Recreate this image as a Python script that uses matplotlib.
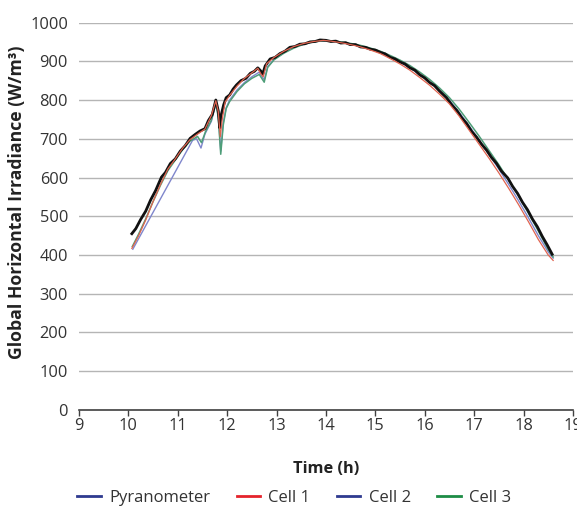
import matplotlib
matplotlib.use("Agg")
import matplotlib.pyplot as plt
from matplotlib.lines import Line2D

plt.rcParams['font.family'] = ['Open Sans', 'DejaVu Sans']

# ---- data (hours, W/m²) ----
pyr_t = [10.07, 10.15, 10.25, 10.35, 10.45, 10.55, 10.67, 10.75, 10.85, 10.95,
         11.05, 11.15, 11.25, 11.35, 11.45, 11.55, 11.62, 11.70, 11.77, 11.82,
         11.85, 11.88, 11.93, 11.98, 12.05, 12.12, 12.19, 12.28, 12.38, 12.47,
         12.55, 12.62, 12.68, 12.72, 12.77, 12.87, 12.97, 13.07, 13.17, 13.27,
         13.37, 13.47, 13.57, 13.68, 13.78, 13.88, 14.00, 14.10, 14.20, 14.30,
         14.40, 14.49, 14.60, 14.70, 14.80, 14.90, 15.00, 15.10, 15.20, 15.30,
         15.40, 15.50, 15.60, 15.70, 15.80, 15.90, 16.00, 16.10, 16.20, 16.30,
         16.44, 16.55, 16.65, 16.75, 16.85, 16.95, 17.05, 17.15, 17.25, 17.35,
         17.45, 17.55, 17.68, 17.78, 17.88, 17.98, 18.08, 18.18, 18.28, 18.38,
         18.48, 18.58]
pyr_v = [455, 468, 492, 513, 542, 566, 601, 613, 636, 648,
         668, 682, 701, 711, 720, 726, 747, 763, 800, 772,
         728, 762, 788, 806, 813, 828, 839, 850, 856, 869,
         874, 883, 875, 867, 888, 906, 910, 920, 926, 936,
         938, 944, 945, 950, 951, 955, 954, 951, 952, 947,
         948, 943, 943, 937, 936, 931, 929, 923, 919, 910,
         906, 898, 893, 883, 877, 865, 857, 845, 837, 823,
         806, 787, 773, 754, 739, 719, 704, 686, 671, 652,
         637, 617, 599, 577, 559, 536, 517, 493, 473, 448,
         426, 402]

cell1_t = [10.07, 10.20, 10.35, 10.50, 10.65, 10.80, 10.95, 11.10, 11.25, 11.40,
           11.55, 11.68, 11.77, 11.82, 11.86, 11.90, 11.96, 12.05, 12.20, 12.35,
           12.50, 12.62, 12.68, 12.73, 12.80, 12.95, 13.15, 13.35, 13.55, 13.75,
           13.95, 14.10, 14.30, 14.50, 14.70, 14.90, 15.10, 15.30, 15.50, 15.70,
           15.90, 16.10, 16.30, 16.50, 16.70, 16.90, 17.10, 17.30, 17.50, 17.70,
           17.90, 18.10, 18.30, 18.50, 18.60]
cell1_v = [417, 448, 490, 538, 582, 622, 648, 676, 698, 712,
           725, 760, 798, 770, 705, 750, 795, 812, 836, 856,
           870, 882, 868, 860, 894, 910, 926, 938, 946, 951,
           954, 952, 948, 943, 937, 929, 920, 907, 893, 877,
           858, 838, 815, 790, 758, 722, 686, 650, 612, 572,
           530, 486, 440, 400, 386]

cell2_t = [10.09, 11.30, 11.38, 11.47, 11.55, 11.68, 11.77, 11.82, 11.87, 11.92,
           11.98, 12.05, 12.20, 12.35, 12.50, 12.65, 12.75, 12.82, 12.95, 13.15,
           13.35, 13.55, 13.75, 13.95, 14.10, 14.30, 14.50, 14.70, 14.90, 15.10,
           15.30, 15.50, 15.70, 15.90, 16.10, 16.30, 16.50, 16.70, 16.90, 17.10,
           17.30, 17.50, 17.70, 17.90, 18.10, 18.30, 18.50, 18.60]
cell2_v = [415, 696, 700, 676, 712, 745, 790, 760, 668, 740,
           780, 800, 826, 845, 860, 872, 852, 886, 905, 922,
           936, 944, 950, 953, 952, 949, 944, 939, 932, 923,
           911, 898, 883, 866, 846, 824, 799, 768, 733, 697,
           660, 622, 582, 540, 496, 450, 408, 392]

cell3_t = [10.08, 10.20, 10.35, 10.50, 10.65, 10.80, 10.95, 11.10, 11.25, 11.40,
           11.48, 11.56, 11.68, 11.77, 11.82, 11.87, 11.92, 11.98, 12.05, 12.20,
           12.35, 12.50, 12.65, 12.75, 12.82, 12.95, 13.15, 13.35, 13.55, 13.75,
           13.95, 14.10, 14.30, 14.50, 14.70, 14.90, 15.10, 15.30, 15.50, 15.70,
           15.90, 16.10, 16.30, 16.50, 16.70, 16.90, 17.10, 17.30, 17.50, 17.70,
           17.90, 18.10, 18.30, 18.50, 18.60]
cell3_v = [422, 452, 493, 538, 580, 618, 645, 672, 694, 706,
           690, 718, 748, 792, 755, 660, 735, 778, 796, 822,
           842, 856, 866, 846, 884, 904, 921, 934, 944, 950,
           953, 953, 950, 946, 941, 934, 926, 915, 903, 889,
           872, 853, 831, 806, 776, 742, 707, 670, 633, 593,
           552, 508, 462, 414, 395]

x_ticks = [9, 10, 11, 12, 13, 14, 15, 16, 17, 18, 19]
y_ticks = [0, 100, 200, 300, 400, 500, 600, 700, 800, 900, 1000]
legend_labels = ['Pyranometer', 'Cell 1', 'Cell 2', 'Cell 3']

# ---- style ----
NAVY = '#2e3a8f'
RED = '#e5232b'
GREEN = '#1d8c45'

fig = plt.figure(figsize=(5.77, 5.13), dpi=100)
ax = fig.add_axes([0.1369, 0.2008, 0.8560, 0.7553])

ax.plot(cell2_t, cell2_v, color='#7f86cc', lw=1.0, zorder=2)
ax.plot(cell3_t, cell3_v, color='#4e9e78', lw=1.1, zorder=3)
ax.plot(pyr_t, pyr_v, color='#111111', lw=2.0, zorder=4)
ax.plot(cell1_t, cell1_v, color='#e0634f', lw=0.9, zorder=5)

ax.set_xlim(9, 19)
ax.set_ylim(0, 1000)
ax.set_xticks(x_ticks)
ax.set_yticks(y_ticks)
ax.set_xticklabels([str(v) for v in x_ticks])
ax.set_yticklabels([str(v) for v in y_ticks])

for s in ['top', 'right', 'left']:
    ax.spines[s].set_visible(False)
ax.spines['bottom'].set_color('#404040')
ax.spines['bottom'].set_linewidth(1.2)
ax.yaxis.grid(True, color='#b5b5b5', lw=1.0)
ax.set_axisbelow(True)
ax.tick_params(axis='y', length=0, pad=8, labelsize=11.8, labelcolor='#333333')
ax.tick_params(axis='x', length=4, width=1, color='#404040', direction='out',
               pad=2, labelsize=11.8, labelcolor='#333333')

ax.set_xlabel('Time (h)', fontweight='bold', fontsize=11.8, labelpad=19, color='#222222')
ax.set_ylabel('Global Horizontal Irradiance (W/m³)', fontweight='bold', fontsize=12.7,
              color='#222222')
ax.yaxis.set_label_coords(-0.108, 0.536)

handles = [Line2D([0], [0], color=NAVY, lw=2),
           Line2D([0], [0], color=RED, lw=2),
           Line2D([0], [0], color=NAVY, lw=2),
           Line2D([0], [0], color=GREEN, lw=2)]
fig.legend(handles, legend_labels, loc='center', bbox_to_anchor=(0.51, 0.030),
           ncol=4, frameon=False, fontsize=12, handlelength=1.4,
           columnspacing=1.6, handletextpad=0.5, labelcolor='#333333')

fig.savefig('out.png', dpi=100)
